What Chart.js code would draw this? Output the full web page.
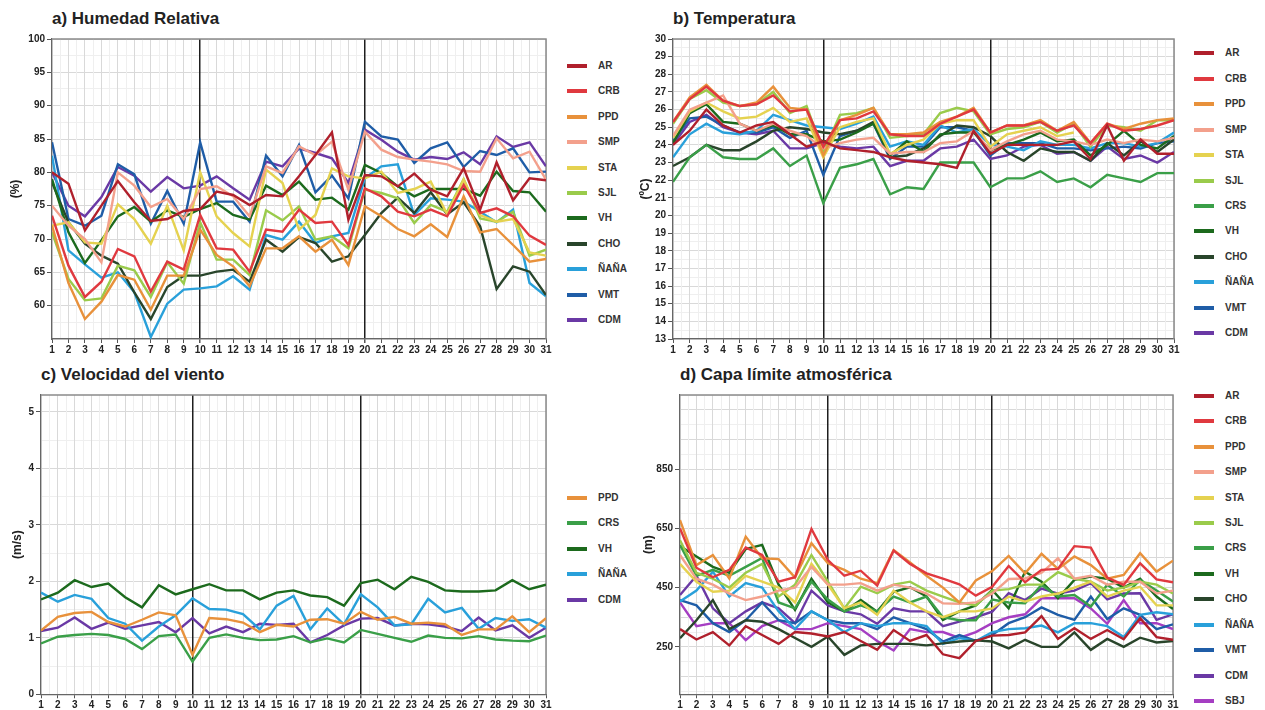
<!DOCTYPE html>
<html>
<head>
<meta charset="utf-8">
<script src="https://cdn.jsdelivr.net/npm/chart.js@4.4.1/dist/chart.umd.min.js"></script>
<style>
  body { margin: 0; background: #fff; width: 1265px; height: 710px; overflow: hidden; position: relative;
         font-family: 'Liberation Sans', Arial, sans-serif; }
  canvas, .title, .legend { position: absolute; }
  .title { font-weight: bold; font-size: 17px; color: #222; white-space: nowrap; line-height: 18px; }
  .legend .item { position: absolute; height: 12px; font-weight: bold; font-size: 10px; line-height: 12px; color: #333; white-space: nowrap; }
  .legend .swatch { position: absolute; left: 0; top: 4px; width: 20px; height: 4px; }
  .legend .txt { position: absolute; left: 31px; top: 0; }
</style>
</head>
<body>
<script>
// dias del mes
const days = [1, 2, 3, 4, 5, 6, 7, 8, 9, 10, 11, 12, 13, 14, 15, 16, 17, 18, 19, 20, 21, 22, 23, 24, 25, 26, 27, 28, 29, 30, 31];

// a) Humedad relativa (%)
const hrAR   = [80, 78.3, 71.3, 75, 78.7, 75.5, 72.7, 73, 74.2, 74.5, 77.1, 76.6, 75.1, 76.6, 76.4, 79.4, 82.6, 86, 72.9, 79.6, 79.4, 77.9, 79.8, 77.4, 76.4, 80.6, 74.4, 81.5, 75.8, 79.1, 78.8];
const hrCRB  = [73.5, 66, 61.3, 63.6, 68.5, 67.4, 62.1, 66.6, 65.4, 73.6, 68.6, 68.4, 65.1, 71.4, 71.1, 74.4, 72.4, 72.6, 69.1, 77.6, 76.4, 74.1, 73.4, 74.4, 73.4, 78.1, 73.9, 74.6, 73.4, 70.5, 69.1];
const hrPPD  = [72, 63.4, 58, 60.6, 64.6, 63.9, 59.4, 64.5, 64.5, 71.4, 67.6, 65.9, 62.9, 68.6, 68.6, 70.4, 68.1, 69.9, 66.1, 74.9, 73.4, 71.5, 70.4, 72.2, 70.3, 76.4, 71, 71.5, 69.1, 66.6, 67];
const hrSMP  = [75, 72, 70, 66.5, 80, 78, 74.8, 76, 73, 77.5, 77.9, 76.4, 73.4, 80.9, 79.9, 83.9, 82.6, 84.6, 77.4, 86.1, 83.4, 82.3, 81.9, 81.6, 81.2, 80.2, 80.1, 85.1, 82.1, 83.1, 78.9];
const hrSTA  = [72, 72.5, 69.5, 69.3, 75.2, 73, 69.3, 75, 68.3, 80, 73.4, 70.9, 68.9, 80.4, 78.4, 71.4, 73.6, 80.6, 79.4, 79.1, 80.1, 76.9, 77.5, 78.6, 73.7, 78.9, 73.6, 72.6, 73, 68, 67.5];
const hrSJL  = [71, 64, 60.8, 61.1, 66, 65.3, 61.3, 66.5, 63.3, 72.5, 66.9, 66.9, 64.6, 74.3, 72.8, 74.9, 69.9, 70.4, 68.6, 77.4, 76.9, 76.1, 72.4, 75.1, 74.1, 79, 73.1, 72.6, 74.1, 67.5, 68.4];
const hrVH   = [79, 71, 66.4, 69.8, 73.4, 74.8, 72.6, 74.3, 73.3, 74.5, 75.4, 73.6, 72.9, 78, 76.6, 78.6, 75.9, 76.2, 74.4, 81.1, 79.9, 77.9, 76.4, 77.5, 77.5, 77.5, 76.5, 80.1, 77.2, 77, 74.1];
const hrCHO  = [78.5, 72.5, 69.3, 67.5, 66.3, 62, 58, 62.8, 64.5, 64.5, 65.1, 65.4, 63.6, 69.9, 68.1, 70.3, 69.4, 66.6, 67.4, 70.6, 73.9, 76.2, 73.9, 77, 73.7, 75.5, 71.9, 62.5, 65.9, 65.1, 61.6];
const hrNANA = [82.5, 68.3, 66.2, 64.2, 65, 62, 55.3, 60.3, 62.4, 62.6, 62.9, 64.4, 62.4, 70.6, 69.9, 72.6, 69.4, 70.4, 70.9, 79.1, 80.9, 81.2, 73.6, 76.1, 75.9, 75.6, 74.1, 72.5, 74.4, 63.4, 61.4];
const hrVMT  = [84.5, 73, 72, 73.5, 81.2, 79.7, 72.3, 77.2, 72.3, 84.5, 75.6, 75.6, 72.6, 82.5, 79.4, 84.1, 77, 79.5, 76.1, 87.6, 85.4, 84.9, 81.4, 83.6, 84.5, 80.8, 83.2, 82.6, 83.6, 80, 80.1];
const hrCDM  = [80, 75, 73.4, 76.3, 80.8, 79.5, 77.1, 79.3, 77.6, 78, 79.4, 77.6, 75.9, 81.6, 80.9, 83.6, 82.9, 82.1, 78.4, 86.4, 84.9, 83.1, 81.9, 82.3, 82, 83, 81.2, 85.4, 83.8, 84.5, 80.9];
const hrTicks = [60, 65, 70, 75, 80, 85, 90, 95, 100];

// b) Temperatura (ºC)
const tAR   = [24, 24.8, 26, 25.1, 24.7, 25.1, 25.3, 24.6, 23.9, 24.2, 23.8, 23.7, 23.6, 23.3, 23.1, 23, 22.9, 22.7, 24.8, 23.5, 24, 24, 24, 24, 24.2, 23.2, 25.1, 23.1, 24.3, 23.5, 23.5];
const tCRB  = [25.3, 26.6, 27.3, 26.5, 26.2, 26.3, 26.8, 25.9, 26, 23.9, 25.4, 25.5, 25.9, 24.6, 24.5, 24.5, 25.2, 25.6, 26, 24.7, 25.1, 25.1, 25.3, 24.8, 25.1, 24.1, 25.2, 24.8, 24.9, 25.1, 25.4];
const tPPD  = [25.3, 26.7, 27.4, 26.5, 26.2, 26.4, 27.3, 26.1, 26, 23.4, 25.4, 25.7, 26.1, 24.6, 24.6, 24.7, 25.3, 25.6, 26.1, 24.7, 25.1, 25.1, 25.4, 24.8, 25.3, 24.1, 25.2, 24.9, 25.2, 25.4, 25.5];
const tSMP  = [24.5, 26, 26.4, 26.8, 25.2, 24.8, 25.2, 24.8, 24.5, 23.8, 24.1, 24.3, 24.4, 23.5, 23.6, 23.6, 24.1, 24.2, 24.8, 23.7, 24.2, 24.6, 24.8, 24.3, 24.2, 24, 24.3, 24.1, 24.3, 24.2, 24.4];
const tSTA  = [24.4, 25.9, 26.4, 25.9, 25.5, 25.6, 26.1, 25.3, 25.5, 23.3, 25, 25.3, 25.5, 23.5, 24, 24.3, 25.2, 25.4, 25.4, 23.9, 24.6, 24.8, 25, 24.5, 24.7, null, null, null, null, null, null];
const tSJL  = [25.2, 26.6, 27.1, 26.4, 26.2, 26.3, 27, 25.8, 26.2, 23.6, 25.7, 25.8, 26.1, 24.4, 24.5, 24.6, 25.8, 26.1, 25.9, 24.6, 24.9, 25, 25.3, 24.7, 25.2, 23.9, 25.1, 25, 24.8, 25.4, 25.4];
const tCRS  = [21.9, 23.3, 24, 23.3, 23.2, 23.2, 23.8, 22.8, 23.4, 20.7, 22.7, 22.9, 23.2, 21.2, 21.6, 21.5, 23, 23, 23, 21.6, 22.1, 22.1, 22.5, 21.9, 22.1, 21.6, 22.3, 22.1, 21.9, 22.4, 22.4];
const tVH   = [24.1, 25.8, 26.3, 25.3, 25.2, 24.8, 25.1, 24.6, 24.6, 24.2, 24.3, 24.7, 25.2, 23.4, 24.2, 23.6, 24.6, 24.7, 24.7, 23.7, 24, 24.3, 24.7, 24.2, 24.3, 23.4, 24, 24.8, 24, 23.8, 24.5];
const tCHO  = [22.8, 23.3, 24, 23.7, 23.7, 24.2, 24.8, 25, 24.9, 24.7, 24.6, 24.8, 25.3, 23.3, 23.4, 23.8, 24.5, 25.1, 25, 24.5, 23.6, 23.1, 23.8, 23.6, 23.6, 23.1, 24.1, 23.4, 24.2, 23.6, 24.3];
const tNANA = [23.3, 24.6, 25.2, 24.7, 24.6, 24.8, 25.7, 25.4, 25.1, 25, 24.9, 25.2, 25.6, 23.9, 24.2, 24, 25.1, 24.7, 24.9, 24, 23.9, 23.7, 24.2, 24, 24, 23.8, 24.1, 24.1, 23.9, 24.1, 24.7];
const tVMT  = [24.2, 25.5, 25.6, 25.1, 24.7, 24.7, 25, 24.4, 24.8, 22.3, 24.5, 24.8, 25.2, 23.2, 23.9, 23.9, 25, 25, 24.8, 23.4, 24.1, 24.1, 24.1, 23.8, 23.8, 23.7, 23.8, 23.9, 23.8, 24.1, 24.2];
const tCDM  = [24, 25.3, 25.7, 25, 24.7, 24.6, 24.8, 23.8, 23.8, 24.1, 23.9, 23.8, 23.9, 22.8, 23.1, 23.1, 23.8, 23.9, 24.3, 23.2, 23.4, 23.9, 24, 23.5, 23.6, 23.1, 23.9, 23.2, 23.4, 23, 23.6];
const tTicks = [13, 14, 15, 16, 17, 18, 19, 20, 21, 22, 23, 24, 25, 26, 27, 28, 29, 30];

// c) Velocidad del viento (m/s)
const vvPPD  = [1.13, 1.37, 1.44, 1.46, 1.28, 1.2, 1.32, 1.45, 1.4, 0.7, 1.35, 1.33, 1.27, 1.1, 1.23, 1.2, 1.32, 1.33, 1.25, 1.46, 1.32, 1.37, 1.25, 1.27, 1.24, 1.05, 1.15, 1.15, 1.38, 1.1, 1.35];
const vvCRS  = [0.9, 1.02, 1.05, 1.07, 1.05, 0.98, 0.8, 1.03, 1.06, 0.58, 1, 1.06, 1, 0.96, 0.97, 1.03, 0.92, 0.99, 0.92, 1.14, 1.07, 1, 0.93, 1.04, 1, 0.99, 1.03, 0.97, 0.95, 0.94, 1.04];
const vvVH   = [1.68, 1.8, 2.02, 1.9, 1.96, 1.72, 1.54, 1.93, 1.77, 1.86, 1.95, 1.84, 1.84, 1.68, 1.8, 1.84, 1.75, 1.72, 1.57, 1.97, 2.03, 1.86, 2.08, 1.99, 1.84, 1.82, 1.82, 1.84, 2.02, 1.86, 1.94];
const vvNANA = [1.8, 1.64, 1.76, 1.69, 1.35, 1.25, 0.95, 1.2, 1.4, 1.7, 1.51, 1.5, 1.42, 1.15, 1.57, 1.74, 1.15, 1.52, 1.24, 1.77, 1.54, 1.22, 1.24, 1.69, 1.45, 1.53, 1.16, 1.35, 1.3, 1.33, 1.18];
const vvCDM  = [1.12, 1.18, 1.36, 1.16, 1.27, 1.16, 1.22, 1.28, 1.1, 1.35, 1.08, 1.2, 1.1, 1.25, 1.23, 1.25, 0.92, 1.05, 1.22, 1.34, 1.35, 1.22, 1.25, 1.24, 1.2, 1.12, 1.36, 1.13, 1.22, 1, 1.18];
const vvTicks = [0, 1, 2, 3, 4, 5];

// d) Capa limite atmosferica (m)
const clAR   = [310, 275, 300, 255, 320, 290, 260, 300, 295, 285, 300, 270, 240, 307, 270, 290, 225, 212, 270, 288, 290, 299, 354, 277, 313, 277, 307, 276, 347, 283, 274];
const clCRB  = [650, 517, 485, 510, 585, 560, 470, 485, 648, 543, 490, 507, 457, 575, 530, 498, 480, 461, 423, 453, 523, 468, 510, 513, 590, 585, 484, 459, 532, 478, 468];
const clPPD  = [678, 526, 560, 481, 622, 549, 546, 484, 600, 532, 510, 480, 465, 577, 535, 490, 450, 400, 474, 506, 557, 498, 564, 513, 555, 526, 480, 493, 566, 504, 541];
const clSMP  = [560, 480, 460, 430, 408, 420, 440, 450, 520, 460, 460, 465, 440, 460, 450, 430, 397, 395, 400, 430, 479, 481, 500, 549, 480, 490, 460, 470, 470, 430, 440];
const clSTA  = [530, 470, 436, 440, 490, 470, 450, 400, 530, 460, 380, 400, 358, 440, 400, 370, 350, 370, 370, 380, 420, 403, 420, 430, 450, 470, 420, 440, 453, 390, 390];
const clSJL  = [610, 500, 480, 450, 500, 530, 420, 460, 560, 470, 380, 453, 431, 460, 470, 440, 420, 400, 390, 440, 445, 460, 460, 502, 480, 470, 440, 450, 470, 460, 430];
const clCRS  = [594, 490, 510, 490, 520, 550, 400, 380, 470, 410, 370, 390, 370, 420, 400, 420, 350, 340, 340, 410, 400, 397, 459, 420, 425, 386, 460, 420, 476, 440, 403];
const clVH   = [590, 555, 520, 500, 580, 594, 460, 375, 480, 400, 370, 408, 369, 436, 451, 420, 341, 370, 390, 442, 380, 504, 470, 414, 476, 487, 480, 450, 480, 420, 378];
const clCHO  = [279, 340, 408, 310, 340, 335, 310, 280, 250, 285, 223, 255, 260, 260, 260, 255, 262, 268, 272, 268, 245, 274, 250, 250, 299, 240, 277, 250, 281, 265, 270];
const clNANA = [403, 440, 504, 420, 465, 450, 370, 310, 370, 340, 300, 330, 320, 330, 330, 320, 260, 280, 270, 300, 310, 313, 322, 299, 330, 330, 320, 283, 358, 367, 360];
const clVMT  = [408, 390, 330, 300, 340, 400, 340, 330, 370, 340, 330, 330, 310, 350, 330, 310, 268, 290, 270, 290, 330, 350, 383, 358, 341, 420, 344, 380, 358, 310, 326];
const clCDM  = [425, 490, 380, 330, 370, 400, 380, 330, 440, 390, 370, 360, 328, 380, 370, 370, 320, 335, 350, 369, 431, 408, 447, 430, 440, 465, 410, 430, 431, 341, 360];
const clSBJ  = [400, 320, 330, 330, 273, 320, 340, 310, 310, 330, 320, 310, 270, 238, 310, 300, 300, 280, 300, 330, 350, 360, 414, 414, 414, 380, 328, 408, 330, 330, 310];
const clTicks = [250, 450, 650, 850];

const colors = {
    'AR': '#b0202c', 'CRB': '#e0393f', 'PPD': '#e8913b', 'SMP': '#f3a08c', 'STA': '#e5d250',
    'SJL': '#9acb4b', 'CRS': '#3a9f48', 'VH': '#1c6a1d', 'CHO': '#29452b', 'ÑAÑA': '#29a0da',
    'VMT': '#1f5da7', 'CDM': '#6a39a5', 'SBJ': '#a53ec2'
};

Chart.defaults.font.family = "'Liberation Sans', Arial, sans-serif";
Chart.defaults.font.size = 10;
Chart.defaults.font.weight = 'bold';
Chart.defaults.color = '#333';

// marco gris arriba y a la derecha del area de trazado
const framePlugin = {
    id: 'frame',
    beforeDatasetsDraw(chart) {
        const { ctx, chartArea: a } = chart;
        ctx.save();
        ctx.strokeStyle = '#8a8a8a';
        ctx.lineWidth = 1.5;
        ctx.beginPath();
        ctx.moveTo(a.left, a.top);
        ctx.lineTo(a.right, a.top);
        ctx.lineTo(a.right, a.bottom);
        ctx.stroke();
        ctx.restore();
    }
};

const panels = [
    { title: 'a) Humedad Relativa', titleX: 52, titleY: 10, unit: '(%)', unitPad: 8,
      left: 0, top: 29, axisW: 52, plotW: 494, plotH: 300.5, axisH: 20,
      yMin: 55, yMax: 100, yStep: 2.5, yMajor: v => v % 5 === 0, yTicks: hrTicks,
      legendX: 567, legendY: 65.7,
      series: [['AR', hrAR], ['CRB', hrCRB], ['PPD', hrPPD], ['SMP', hrSMP], ['STA', hrSTA], ['SJL', hrSJL],
               ['VH', hrVH], ['CHO', hrCHO], ['ÑAÑA', hrNANA], ['VMT', hrVMT], ['CDM', hrCDM]] },
    { title: 'b) Temperatura', titleX: 673, titleY: 10, unit: '(ºC)', unitPad: 8,
      left: 630, top: 29, axisW: 43, plotW: 501, plotH: 300.5, axisH: 20,
      yMin: 13, yMax: 30, yStep: 0.5, yMajor: v => Number.isInteger(v), yTicks: tTicks,
      legendX: 1194, legendY: 53.3,
      series: [['AR', tAR], ['CRB', tCRB], ['PPD', tPPD], ['SMP', tSMP], ['STA', tSTA], ['SJL', tSJL], ['CRS', tCRS],
               ['VH', tVH], ['CHO', tCHO], ['ÑAÑA', tNANA], ['VMT', tVMT], ['CDM', tCDM]] },
    { title: 'c) Velocidad del viento', titleX: 41, titleY: 366, unit: '(m/s)', unitPad: 10,
      left: 0, top: 385, axisW: 41, plotW: 505, plotH: 299.3, axisH: 15.7,
      yMin: 0, yMax: 5.3, yStep: 0.5, yMajor: v => Number.isInteger(v), yTicks: vvTicks,
      legendX: 567, legendY: 497.7,
      series: [['PPD', vvPPD], ['CRS', vvCRS], ['VH', vvVH], ['ÑAÑA', vvNANA], ['CDM', vvCDM]] },
    { title: 'd) Capa límite atmosférica', titleX: 680, titleY: 366, unit: '(m)', unitPad: 11,
      left: 630, top: 385, axisW: 50, plotW: 493, plotH: 299.3, axisH: 15.7,
      yMin: 90, yMax: 1100, yStep: 50, yMajor: v => (v - 50) % 100 === 0, yTicks: clTicks,
      legendX: 1194, legendY: 395.7,
      series: [['AR', clAR], ['CRB', clCRB], ['PPD', clPPD], ['SMP', clSMP], ['STA', clSTA], ['SJL', clSJL], ['CRS', clCRS],
               ['VH', clVH], ['CHO', clCHO], ['ÑAÑA', clNANA], ['VMT', clVMT], ['CDM', clCDM], ['SBJ', clSBJ]] }
];

// ticks en multiplos del paso, entre min y max
function buildTicks(min, max, step) {
    const t = [];
    for (let v = Math.ceil(min / step - 1e-9) * step; v <= max + 1e-9; v += step) {
        t.push({ value: Math.round(v * 100) / 100 });
    }
    return t;
}

panels.forEach(p => {
    const padTop = 10, padRight = 12;
    const canvas = document.createElement('canvas');
    canvas.width = p.axisW + p.plotW + padRight;
    canvas.height = padTop + p.plotH + p.axisH;
    canvas.style.left = p.left + 'px';
    canvas.style.top = p.top + 'px';
    document.body.appendChild(canvas);

    const title = document.createElement('div');
    title.className = 'title';
    title.style.left = p.titleX + 'px';
    title.style.top = p.titleY + 'px';
    title.textContent = p.title;
    document.body.appendChild(title);

    const chart = new Chart(canvas.getContext('2d'), {
        type: 'line',
        data: {
            datasets: p.series.map(([name, vals]) => ({
                label: name,
                data: vals.map((v, i) => ({ x: days[i], y: v })),
                borderColor: colors[name],
                backgroundColor: colors[name],
                borderWidth: 2.4,
                pointRadius: 0,
                tension: 0,
                fill: false
            }))
        },
        options: {
            responsive: false,
            animation: false,
            devicePixelRatio: 1,
            layout: { padding: { top: padTop, right: padRight, left: 0, bottom: 0 } },
            plugins: { legend: { display: false }, tooltip: { enabled: false } },
            scales: {
                x: {
                    type: 'linear', min: 1, max: 31,
                    afterBuildTicks: s => { s.ticks = buildTicks(1, 31, 0.5); },
                    afterFit: s => { s.height = p.axisH; },
                    ticks: {
                        autoSkip: false, maxRotation: 0, padding: 1, color: '#222',
                        callback: v => Number.isInteger(v) ? v : ''
                    },
                    grid: {
                        z: -1,
                        tickLength: 4,
                        color: c => (c.tick.value === 10 || c.tick.value === 20) ? '#1e1e1e'
                            : Number.isInteger(c.tick.value) ? '#d9d9d9' : '#efefef',
                        lineWidth: c => (c.tick.value === 10 || c.tick.value === 20) ? 1.5 : 1,
                        tickColor: c => Number.isInteger(c.tick.value) ? '#555' : 'rgba(0,0,0,0)'
                    },
                    border: { color: '#666', width: 1.2 }
                },
                y: {
                    type: 'linear', min: p.yMin, max: p.yMax,
                    afterBuildTicks: s => { s.ticks = buildTicks(p.yMin, p.yMax, p.yStep); },
                    afterFit: s => { s.width = p.axisW; },
                    ticks: {
                        autoSkip: false, padding: 2, color: '#222',
                        callback: v => p.yTicks.includes(v) ? v : ''
                    },
                    grid: {
                        z: -2,
                        tickLength: 5,
                        color: c => p.yMajor(c.tick.value) ? '#d9d9d9' : '#efefef',
                        tickColor: c => p.yTicks.includes(c.tick.value) ? '#555' : 'rgba(0,0,0,0)'
                    },
                    border: { color: '#666', width: 1.2 },
                    title: {
                        display: true, text: p.unit, color: '#222',
                        font: { size: 12, weight: 'bold' },
                        padding: { top: p.unitPad, bottom: 0 }
                    }
                }
            }
        },
        plugins: [framePlugin]
    });

    // leyenda a la derecha de cada panel
    const legend = document.createElement('div');
    legend.className = 'legend';
    legend.style.left = p.legendX + 'px';
    legend.style.top = '0px';
    chart.data.datasets.forEach((ds, i) => {
        const item = document.createElement('div');
        item.className = 'item';
        item.style.top = (p.legendY + i * 25.45 - 6) + 'px';
        const sw = document.createElement('span');
        sw.className = 'swatch';
        sw.style.background = ds.borderColor;
        const tx = document.createElement('span');
        tx.className = 'txt';
        tx.textContent = ds.label;
        item.appendChild(sw);
        item.appendChild(tx);
        legend.appendChild(item);
    });
    document.body.appendChild(legend);
});
</script>
</body>
</html>
